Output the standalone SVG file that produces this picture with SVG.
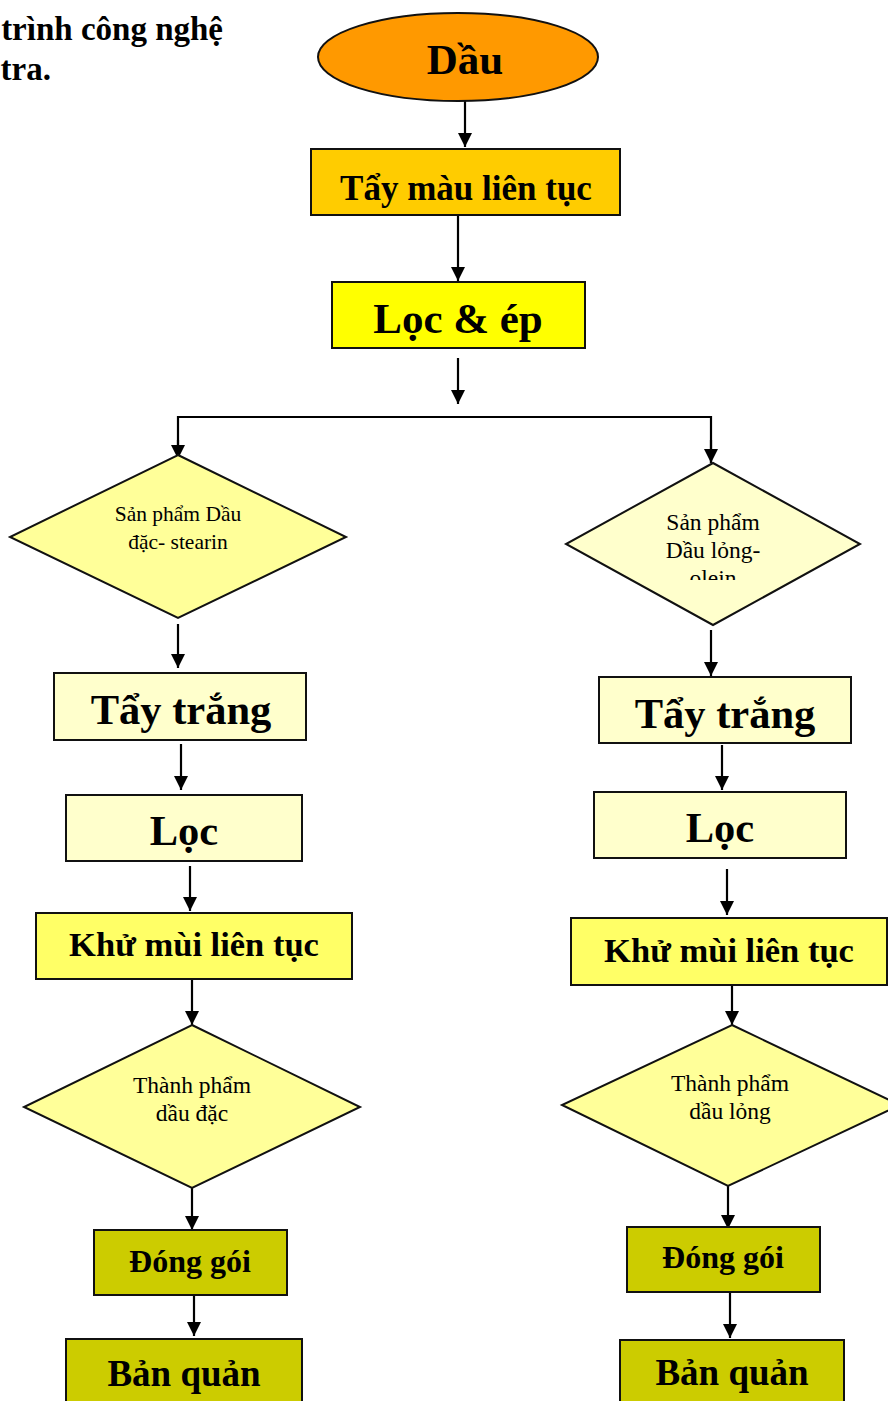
<svg xmlns="http://www.w3.org/2000/svg" width="888" height="1401" viewBox="0 0 888 1401">
<style>
.t{font-family:"Liberation Serif","Times New Roman",serif;font-weight:bold;fill:#000;text-anchor:middle}
.d{font-family:"Liberation Serif","Times New Roman",serif;font-size:23.5px;fill:#000;text-anchor:middle}
.s{stroke:#111;stroke-width:2}
.c{stroke:#000;stroke-width:2.2;fill:none}
</style>
<defs>
<marker id="ah" viewBox="0 0 12 14" refX="14" refY="7" markerWidth="12" markerHeight="14" markerUnits="userSpaceOnUse" orient="auto">
<path d="M0,0 L14,7 L0,14 z" fill="#000"/>
</marker>
<clipPath id="clipR"><rect x="560" y="460" width="310" height="120"/></clipPath>
</defs>
<rect width="888" height="1401" fill="#fff"/>
<g id="title">
<text class="t" style="text-anchor:end" x="223" y="40" font-size="33">trình công nghệ</text>
<text class="t" style="text-anchor:end" x="51" y="80" font-size="33">tra.</text>
</g>
<g id="connectors">
<line class="c" x1="465" y1="101" x2="465" y2="147" marker-end="url(#ah)"/>
<line class="c" x1="458" y1="214" x2="458" y2="281" marker-end="url(#ah)"/>
<line class="c" x1="458" y1="358" x2="458" y2="404" marker-end="url(#ah)"/>
<polyline class="c" points="178,459 178,417 711,417 711,463"/>
<line class="c" x1="178" y1="440" x2="178" y2="459" marker-end="url(#ah)"/>
<line class="c" x1="711" y1="440" x2="711" y2="463" marker-end="url(#ah)"/>
<line class="c" x1="178" y1="624" x2="178" y2="668" marker-end="url(#ah)"/>
<line class="c" x1="181" y1="744" x2="181" y2="790" marker-end="url(#ah)"/>
<line class="c" x1="190" y1="866" x2="190" y2="911" marker-end="url(#ah)"/>
<line class="c" x1="192" y1="979" x2="192" y2="1025" marker-end="url(#ah)"/>
<line class="c" x1="192" y1="1188" x2="192" y2="1230" marker-end="url(#ah)"/>
<line class="c" x1="194" y1="1290" x2="194" y2="1336" marker-end="url(#ah)"/>
<line class="c" x1="711" y1="630" x2="711" y2="676" marker-end="url(#ah)"/>
<line class="c" x1="722" y1="745" x2="722" y2="790" marker-end="url(#ah)"/>
<line class="c" x1="727" y1="869" x2="727" y2="915" marker-end="url(#ah)"/>
<line class="c" x1="732" y1="985" x2="732" y2="1025" marker-end="url(#ah)"/>
<line class="c" x1="728" y1="1186" x2="728" y2="1229" marker-end="url(#ah)"/>
<line class="c" x1="730" y1="1292" x2="730" y2="1338" marker-end="url(#ah)"/>
</g>
<g id="n-dau">
<ellipse class="s" cx="458" cy="57" rx="140" ry="44" fill="#FF9900"/>
<text class="t" x="465" y="74" font-size="43">Dầu</text>
</g>
<g id="n-taymau">
<rect class="s" x="311" y="149" width="309" height="66" fill="#FFCC00"/>
<text class="t" x="466" y="200" font-size="35">Tẩy màu liên tục</text>
</g>
<g id="n-locep">
<rect class="s" x="332" y="282" width="253" height="66" fill="#FFFF00"/>
<text class="t" x="458" y="333" font-size="43">Lọc &amp; ép</text>
</g>
<g id="n-sp-dac">
<polygon class="s" points="178,455 346,537 178,618 10,537" fill="#FFFF99"/>
<text class="d" x="178" y="521" style="font-size:21.5px">Sản phẩm Dầu</text>
<text class="d" x="178" y="549" style="font-size:21.5px">đặc- stearin</text>
</g>
<g id="n-sp-long">
<polygon class="s" points="713,463 860,544 713,625 566,544" fill="#FFFFCC"/>
<g clip-path="url(#clipR)">
<text class="d" x="713" y="530">Sản phẩm</text>
<text class="d" x="713" y="558">Dầu lỏng-</text>
<text class="d" x="713" y="586">olein</text>
</g>
</g>
<g id="n-taytrang-l">
<rect class="s" x="54" y="673" width="252" height="67" fill="#FFFFCC"/>
<text class="t" x="181" y="724" font-size="42.5">Tẩy trắng</text>
</g>
<g id="n-loc-l">
<rect class="s" x="66" y="795" width="236" height="66" fill="#FFFFCC"/>
<text class="t" x="184" y="845" font-size="42.5">Lọc</text>
</g>
<g id="n-khumui-l">
<rect class="s" x="36" y="913" width="316" height="66" fill="#FFFF66"/>
<text class="t" x="194" y="956" font-size="34.5">Khử mùi liên tục</text>
</g>
<g id="n-tp-dac">
<polygon class="s" points="192,1025 360,1107 192,1188 24,1107" fill="#FFFF99"/>
<text class="d" x="192" y="1093">Thành phẩm</text>
<text class="d" x="192" y="1121">dầu đặc</text>
</g>
<g id="n-donggoi-l">
<rect class="s" x="94" y="1230" width="193" height="65" fill="#CCCC00"/>
<text class="t" x="190" y="1272" font-size="32">Đóng gói</text>
</g>
<g id="n-baoquan-l">
<rect class="s" x="66" y="1339" width="236" height="70" fill="#CCCC00"/>
<text class="t" x="184" y="1386" font-size="37">Bản quản</text>
</g>
<g id="n-taytrang-r">
<rect class="s" x="599" y="677" width="252" height="66" fill="#FFFFCC"/>
<text class="t" x="725" y="728" font-size="42.5">Tẩy trắng</text>
</g>
<g id="n-loc-r">
<rect class="s" x="594" y="792" width="252" height="66" fill="#FFFFCC"/>
<text class="t" x="720" y="842" font-size="42.5">Lọc</text>
</g>
<g id="n-khumui-r">
<rect class="s" x="571" y="918" width="316" height="67" fill="#FFFF66"/>
<text class="t" x="729" y="962" font-size="34.5">Khử mùi liên tục</text>
</g>
<g id="n-tp-long">
<polygon class="s" points="732,1025 900,1105 728,1186 562,1105" fill="#FFFF99"/>
<text class="d" x="730" y="1091">Thành phẩm</text>
<text class="d" x="730" y="1119">dầu lỏng</text>
</g>
<g id="n-donggoi-r">
<rect class="s" x="627" y="1227" width="193" height="65" fill="#CCCC00"/>
<text class="t" x="723" y="1268" font-size="32">Đóng gói</text>
</g>
<g id="n-baoquan-r">
<rect class="s" x="620" y="1340" width="224" height="70" fill="#CCCC00"/>
<text class="t" x="732" y="1385" font-size="37">Bản quản</text>
</g>
</svg>
